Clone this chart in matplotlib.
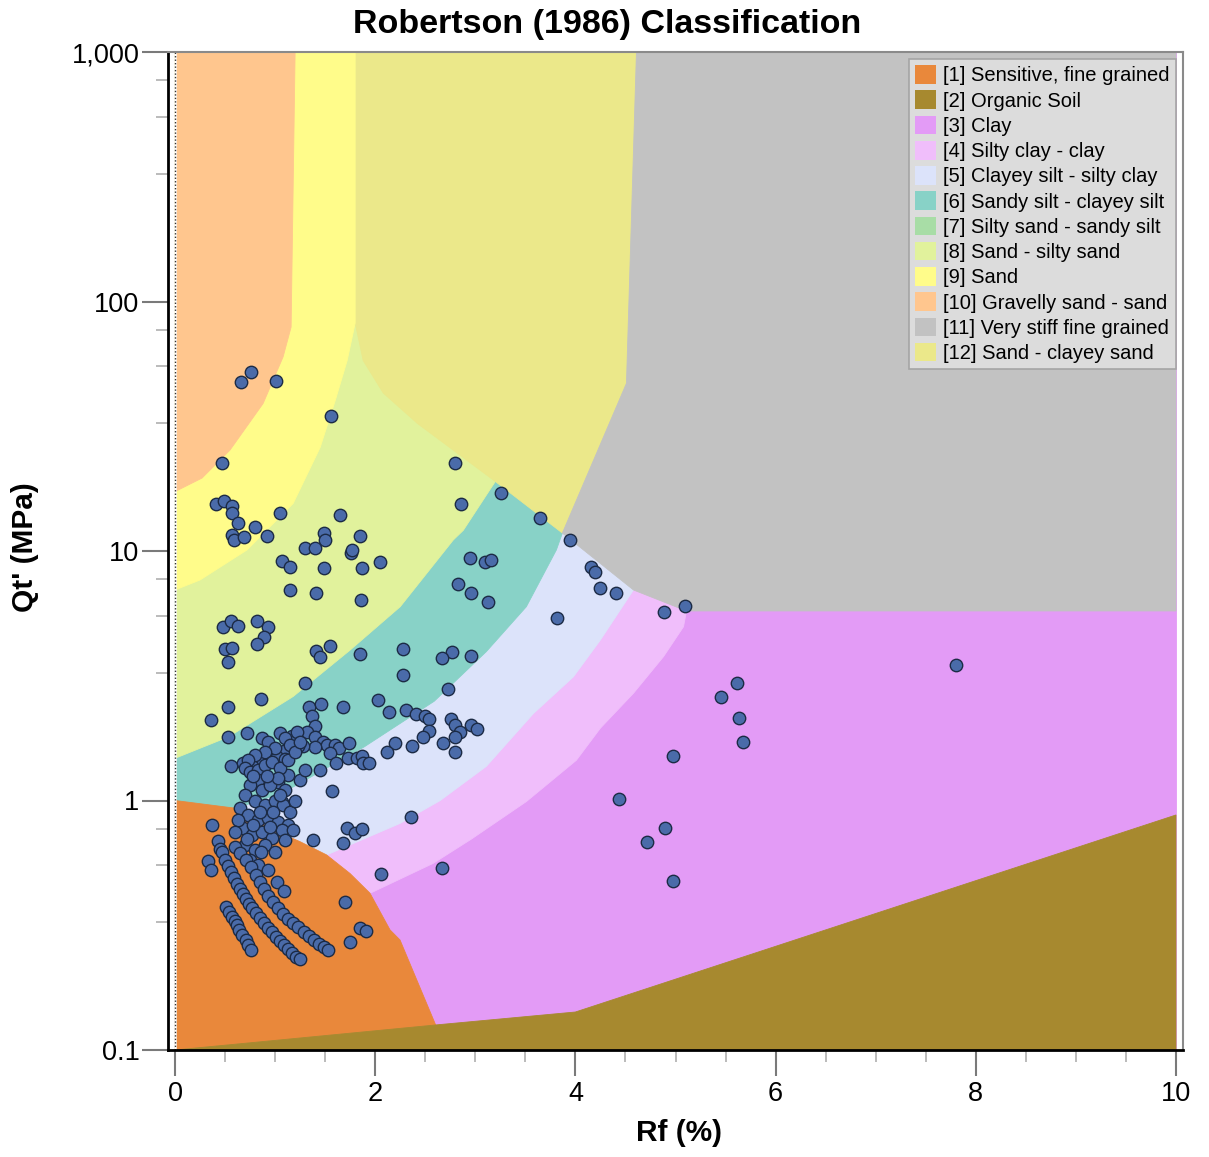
import numpy as np
import matplotlib
matplotlib.use('Agg')
import matplotlib.pyplot as plt
from matplotlib.patches import Patch

plt.rcParams['font.family'] = ['Liberation Sans', 'DejaVu Sans']

# ── Soil behaviour zones (Rf %, Qt MPa) ─────────────────────────────────────
ZONE_LABELS = ['[1] Sensitive, fine grained', '[2] Organic Soil', '[3] Clay',
               '[4] Silty clay - clay', '[5] Clayey silt - silty clay',
               '[6] Sandy silt - clayey silt', '[7] Silty sand - sandy silt',
               '[8] Sand - silty sand', '[9] Sand', '[10] Gravelly sand - sand',
               '[11] Very stiff fine grained', '[12] Sand - clayey sand']
ZONE_COLORS = ['#E9883B', '#A7892F', '#E39BF6', '#F0BEFB', '#DCE3FA', '#88D2C7',
               '#A8DDA6', '#E1F29C', '#FFFC8A', '#FFC68E', '#C2C2C2', '#EBE88A']

# boundaries between zones
LP_CLAY   = [(5.11, 5.75), (5.08, 4.97), (4.88, 3.77), (4.58, 2.69), (4.25, 1.95),
             (4.01, 1.45), (3.51, 0.99), (2.96, 0.70), (2.58, 0.56), (1.95, 0.425)]
LAV_LP    = [(4.58, 6.98), (4.25, 4.40), (3.98, 3.13), (3.58, 2.23), (3.40, 1.85),
             (3.11, 1.37), (2.65, 1.0), (2.25, 0.81), (1.515, 0.605)]
TEAL_LAV  = [(3.87, 11.8), (3.81, 10.1), (3.51, 5.98), (3.11, 3.95), (2.59, 2.5),
             (1.89, 1.64), (1.07, 1.07), (0.606, 0.931)]
TEAL_LG   = [(3.20, 19.0), (2.88, 12.1), (2.78, 11.07), (2.25, 5.98), (1.75, 4.01),
             (1.18, 2.61), (0.535, 1.80), (0.0, 1.476)]
KHAKI_LG  = [(3.87, 11.8), (3.20, 19.0), (2.42, 32.5), (2.08, 43.0), (1.88, 58.0), (1.80, 82.0)]
GRAY_EDGE = [(4.61, 1000), (4.51, 47.0), (3.87, 11.8), (4.58, 6.98), (5.11, 5.75)]
SAND_EDGE = [(1.80, 1000), (1.80, 82.0), (1.72, 58.0), (1.60, 40.0), (1.45, 26.0),
             (1.18, 15.5), (0.72, 10.1), (0.25, 7.65), (0.0, 6.98)]
GRAV_EDGE = [(1.20, 1000), (1.16, 79.0), (1.08, 60.0), (0.88, 39.0), (0.55, 25.4),
             (0.27, 19.6), (0.0, 17.3)]
SENS_EDGE = [(2.604, 0.126), (2.248, 0.276), (2.148, 0.303), (1.948, 0.425), (1.748, 0.51),
             (1.515, 0.605), (1.249, 0.684), (0.982, 0.762), (0.606, 0.931), (0.0, 1.0)]
ORG_EDGE  = [(0.0, 0.1), (2.604, 0.126), (4.0, 0.142), (10.0, 0.875)]

# ── CPT data points ───────────────────────────────────────────────────────────
pts_upper = [(0.76, 52.1), (0.66, 47.4), (1.01, 48.1), (1.56, 34.8), (0.47, 22.5), (2.80, 22.5),
             (2.86, 15.4), (0.41, 15.5), (0.49, 15.9), (0.57, 15.2), (0.57, 14.2), (0.63, 12.9),
             (0.80, 12.5), (0.57, 11.6), (0.59, 11.1), (0.69, 11.4), (0.92, 11.5), (1.05, 14.2),
             (1.65, 13.9), (1.49, 11.8), (1.50, 11.1), (1.30, 10.3), (1.40, 10.3), (1.85, 11.5),
             (1.76, 9.84), (1.77, 10.1), (2.05, 9.06), (1.87, 8.52), (1.49, 8.52), (1.07, 9.14),
             (1.15, 8.65), (1.15, 6.98), (1.41, 6.81), (1.86, 6.37), (2.95, 9.40), (2.83, 7.37),
             (2.96, 6.81), (3.26, 17.1), (3.65, 13.5), (3.95, 11.1), (3.10, 9.06), (3.16, 9.2),
             (3.13, 6.24), (4.16, 8.65), (4.20, 8.24), (4.25, 7.14), (4.41, 6.79), (3.82, 5.37),
             (4.89, 5.71), (5.09, 6.04)]
pts_mid = [(2.28, 4.04), (2.77, 3.95), (2.67, 3.71), (2.96, 3.81), (2.28, 3.18), (2.73, 2.79),
           (2.31, 2.31), (2.41, 2.22), (2.50, 2.19), (2.54, 2.12), (2.54, 1.90), (2.76, 2.13),
           (2.80, 2.0), (2.85, 1.88), (2.96, 2.0), (3.02, 1.93), (2.48, 1.79), (2.80, 1.79),
           (0.48, 4.97), (0.56, 5.26), (0.63, 5.02), (0.82, 5.26), (0.93, 4.97), (0.89, 4.53),
           (0.82, 4.24), (0.50, 4.04), (0.57, 4.08), (0.53, 3.60), (1.41, 3.98), (1.45, 3.75),
           (1.55, 4.17), (1.85, 3.87), (1.30, 2.96), (0.86, 2.55), (0.53, 2.36), (0.36, 2.10),
           (0.53, 1.80), (0.72, 1.87), (1.34, 2.38), (1.46, 2.44), (1.68, 2.38), (1.37, 2.19),
           (1.40, 1.98), (1.32, 1.89), (2.03, 2.53), (2.14, 2.27), (2.37, 1.65), (2.20, 1.70),
           (2.12, 1.57), (2.68, 1.70), (2.80, 1.57)]
pts_teal = [(1.17, 1.81), (1.22, 1.89), (1.40, 1.80), (1.48, 1.72), (1.52, 1.67), (1.60, 1.67),
            (1.64, 1.62), (1.74, 1.70), (1.40, 1.64), (1.55, 1.55), (1.61, 1.41), (1.73, 1.48),
            (1.82, 1.48), (1.87, 1.51), (1.88, 1.42), (1.94, 1.42), (1.45, 1.32), (1.28, 1.65),
            (1.23, 1.65), (1.09, 1.58), (0.92, 1.55), (1.02, 1.50), (0.85, 1.46), (0.68, 1.42),
            (0.77, 1.38), (0.56, 1.37), (1.10, 1.46), (1.13, 1.27), (1.03, 1.19), (1.57, 1.09),
            (2.36, 0.861), (1.07, 0.99)]
pts_cluster = [(0.87, 1.78), (0.93, 1.72), (1.05, 1.87), (1.10, 1.78), (1.15, 1.67), (1.00, 1.62),
               (0.90, 1.56), (0.80, 1.52), (0.73, 1.45), (0.70, 1.35), (0.75, 1.30), (0.83, 1.33),
               (0.90, 1.39), (0.97, 1.43), (1.05, 1.35), (1.13, 1.45), (1.20, 1.56), (1.25, 1.72),
               (0.83, 1.21), (0.75, 1.15), (0.87, 1.10), (0.95, 1.15), (1.03, 1.23), (1.10, 1.10),
               (0.70, 1.05), (0.80, 1.0), (0.90, 0.959), (1.00, 1.0), (1.08, 0.959), (1.15, 0.899),
               (0.65, 0.933), (0.73, 0.875), (0.83, 0.835), (0.93, 0.851), (1.03, 0.820), (1.13, 0.798),
               (0.68, 0.776), (0.77, 0.727), (0.87, 0.748), (0.97, 0.708), (1.07, 0.762), (1.20, 1.0),
               (1.25, 1.21), (1.30, 1.33), (0.63, 0.835), (0.60, 0.748), (0.70, 0.663), (0.80, 0.633),
               (0.90, 0.663), (1.00, 0.622), (0.75, 0.577), (0.83, 0.552), (0.93, 0.527), (1.10, 0.695),
               (1.18, 0.762), (0.78, 1.25), (0.92, 1.25), (0.85, 0.90), (0.98, 0.90), (0.78, 0.80),
               (1.05, 1.05), (0.95, 0.78), (0.72, 0.70), (0.86, 0.62)]
pts_lower = [(0.37, 0.796), (0.43, 0.688), (0.45, 0.638), (0.33, 0.572), (0.36, 0.525), (1.38, 0.695),
             (1.68, 0.678), (1.72, 0.778), (1.80, 0.743), (1.87, 0.767), (2.06, 0.506), (1.70, 0.393),
             (1.85, 0.309), (1.91, 0.301), (1.75, 0.272), (1.02, 0.473), (1.09, 0.435), (2.67, 0.538)]
pts_band_a = [(0.51, 0.374), (0.54, 0.357), (0.57, 0.341), (0.60, 0.329), (0.62, 0.317),
              (0.64, 0.303), (0.67, 0.289), (0.71, 0.276), (0.73, 0.264), (0.76, 0.252)]
pts_band_b = [(0.47, 0.622), (0.50, 0.577), (0.53, 0.546), (0.56, 0.517), (0.59, 0.489), (0.62, 0.463),
              (0.65, 0.442), (0.68, 0.422), (0.71, 0.403), (0.74, 0.385), (0.77, 0.371), (0.81, 0.354),
              (0.85, 0.338), (0.89, 0.323), (0.93, 0.308), (0.97, 0.297), (1.01, 0.284), (1.05, 0.273),
              (1.09, 0.263), (1.13, 0.254), (1.17, 0.245), (1.21, 0.236), (1.25, 0.232)]
pts_band_c = [(0.60, 0.651), (0.65, 0.616), (0.71, 0.577), (0.76, 0.541), (0.81, 0.503), (0.85, 0.471),
              (0.89, 0.442), (0.93, 0.414), (0.98, 0.392), (1.03, 0.371), (1.08, 0.351), (1.13, 0.335),
              (1.18, 0.323), (1.23, 0.311), (1.29, 0.297), (1.34, 0.287), (1.39, 0.276), (1.44, 0.266),
              (1.49, 0.259), (1.53, 0.252)]
pts_right = [(4.98, 1.51), (4.44, 1.01), (4.90, 0.776), (4.72, 0.684), (4.98, 0.477), (7.80, 3.49),
             (5.45, 2.60), (5.61, 2.96), (5.63, 2.14), (5.67, 1.72)]

X_TICKS = [0, 2, 4, 6, 8, 10]
Y_TICKS = [0.1, 1, 10, 100, 1000]
Y_TICK_LABELS = ['0.1', '1', '10', '100', '1,000']
Y_MINOR_MANT = [3.25, 5.5, 7.7]

# ── Figure ────────────────────────────────────────────────────────────────────
fig = plt.figure(figsize=(12.09, 11.57), dpi=100)
ax = fig.add_axes([168 / 1209, 107 / 1157, 1015 / 1209, 998 / 1157])
ax.set_yscale('log')
ax.set_xlim(-0.07, 10.07)
ax.set_ylim(0.1, 1000)

def poly(pts, color):
    xs = [p[0] for p in pts]
    ys = [p[1] for p in pts]
    ax.fill(xs, ys, facecolor=color, edgecolor=color, lw=0.6, zorder=1)

c = ZONE_COLORS
poly([(0, 0.1), (10, 0.1), (10, 1000), (0, 1000)], c[2])                    # clay
poly([(0, 1000), (5.2, 1000)] + LP_CLAY + [(1.5, 0.1), (0, 0.1)], c[3])     # silty clay
poly([(0, 1000), (4.6, 1000)] + LAV_LP + [(1.0, 0.1), (0, 0.1)], c[4])      # clayey silt
poly([(0, 1000), (3.9, 1000)] + TEAL_LAV + [(0, 0.1)], c[5])                # sandy silt
poly([(0, 1000), (3.3, 1000)] + TEAL_LG, c[7])                              # sand - silty sand
poly([(1.8, 1000), (4.61, 1000), (4.51, 47.0)] + KHAKI_LG, c[11])           # sand - clayey sand
poly(GRAY_EDGE + [(10, 5.75), (10, 1000)], c[10])                           # very stiff
poly([(0, 1000)] + SAND_EDGE, c[8])                                         # sand
poly([(0, 1000)] + GRAV_EDGE, c[9])                                         # gravelly sand
poly([(0, 0.1)] + SENS_EDGE, c[0])                                          # sensitive
poly(ORG_EDGE + [(10, 0.1)], c[1])                                          # organic

# dotted line at Rf = 0
ax.axvline(0, color='white', lw=1.8, zorder=2)
ax.axvline(0, color='#333333', lw=1.0, ls=(0, (1, 1.5)), zorder=2)

all_pts = (pts_upper + pts_mid + pts_teal + pts_cluster + pts_lower
           + pts_band_a + pts_band_b + pts_band_c + pts_right)
ax.scatter([p[0] for p in all_pts], [p[1] for p in all_pts], s=80,
           facecolor='#4A6BA9', edgecolor='#1C2B45', linewidths=1.0, zorder=3)

# ── Axes styling ──────────────────────────────────────────────────────────────
ax.set_xticks(X_TICKS)
ax.set_xticks(np.arange(0, 10.01, 0.5), minor=True)
ax.set_yticks(Y_TICKS)
ax.set_yticklabels(Y_TICK_LABELS)
ax.set_yticks([m * 10.0 ** k for k in range(-1, 3) for m in Y_MINOR_MANT], minor=True)
ax.yaxis.set_minor_formatter(matplotlib.ticker.NullFormatter())
ax.tick_params(which='major', direction='out', length=18.5, width=1.5, color='#7a7a7a',
               labelsize=19.5, labelcolor='black')
ax.tick_params(axis='x', which='major', pad=4)
ax.tick_params(axis='y', which='major', pad=2)
ax.tick_params(which='minor', direction='out', length=8.5, width=1.3, color='#b5b5b5')

for side in ['left', 'bottom']:
    ax.spines[side].set_color('black')
    ax.spines[side].set_linewidth(2.0)
for side in ['top', 'right']:
    ax.spines[side].set_color('#8a8a8a')
    ax.spines[side].set_linewidth(1.5)

fig.text(607 / 1209, 1 - 24 / 1157, 'Robertson (1986) Classification', ha='center',
         va='center', fontsize=24.5, fontweight='bold')
fig.text(679 / 1209, 1 - 1133 / 1157, 'Rf (%)', ha='center', va='center',
         fontsize=21.5, fontweight='bold')
fig.text(25 / 1209, 1 - 547 / 1157, "Qt' (MPa)", ha='center', va='center',
         rotation=90, fontsize=21.5, fontweight='bold')

handles = [Patch(facecolor=col, edgecolor='none') for col in ZONE_COLORS]
leg = ax.legend(handles, ZONE_LABELS, loc='upper right', fontsize=14.5, frameon=True,
                fancybox=False, framealpha=1, facecolor='#dcdcdc', edgecolor='#a5a5a5',
                handlelength=1.05, handleheight=1.05, handletextpad=0.35,
                labelspacing=0.25, borderpad=0.3, borderaxespad=0.35)
leg.get_frame().set_linewidth(1.2)
leg.set_zorder(5)

fig.savefig('out.png', dpi=100)
